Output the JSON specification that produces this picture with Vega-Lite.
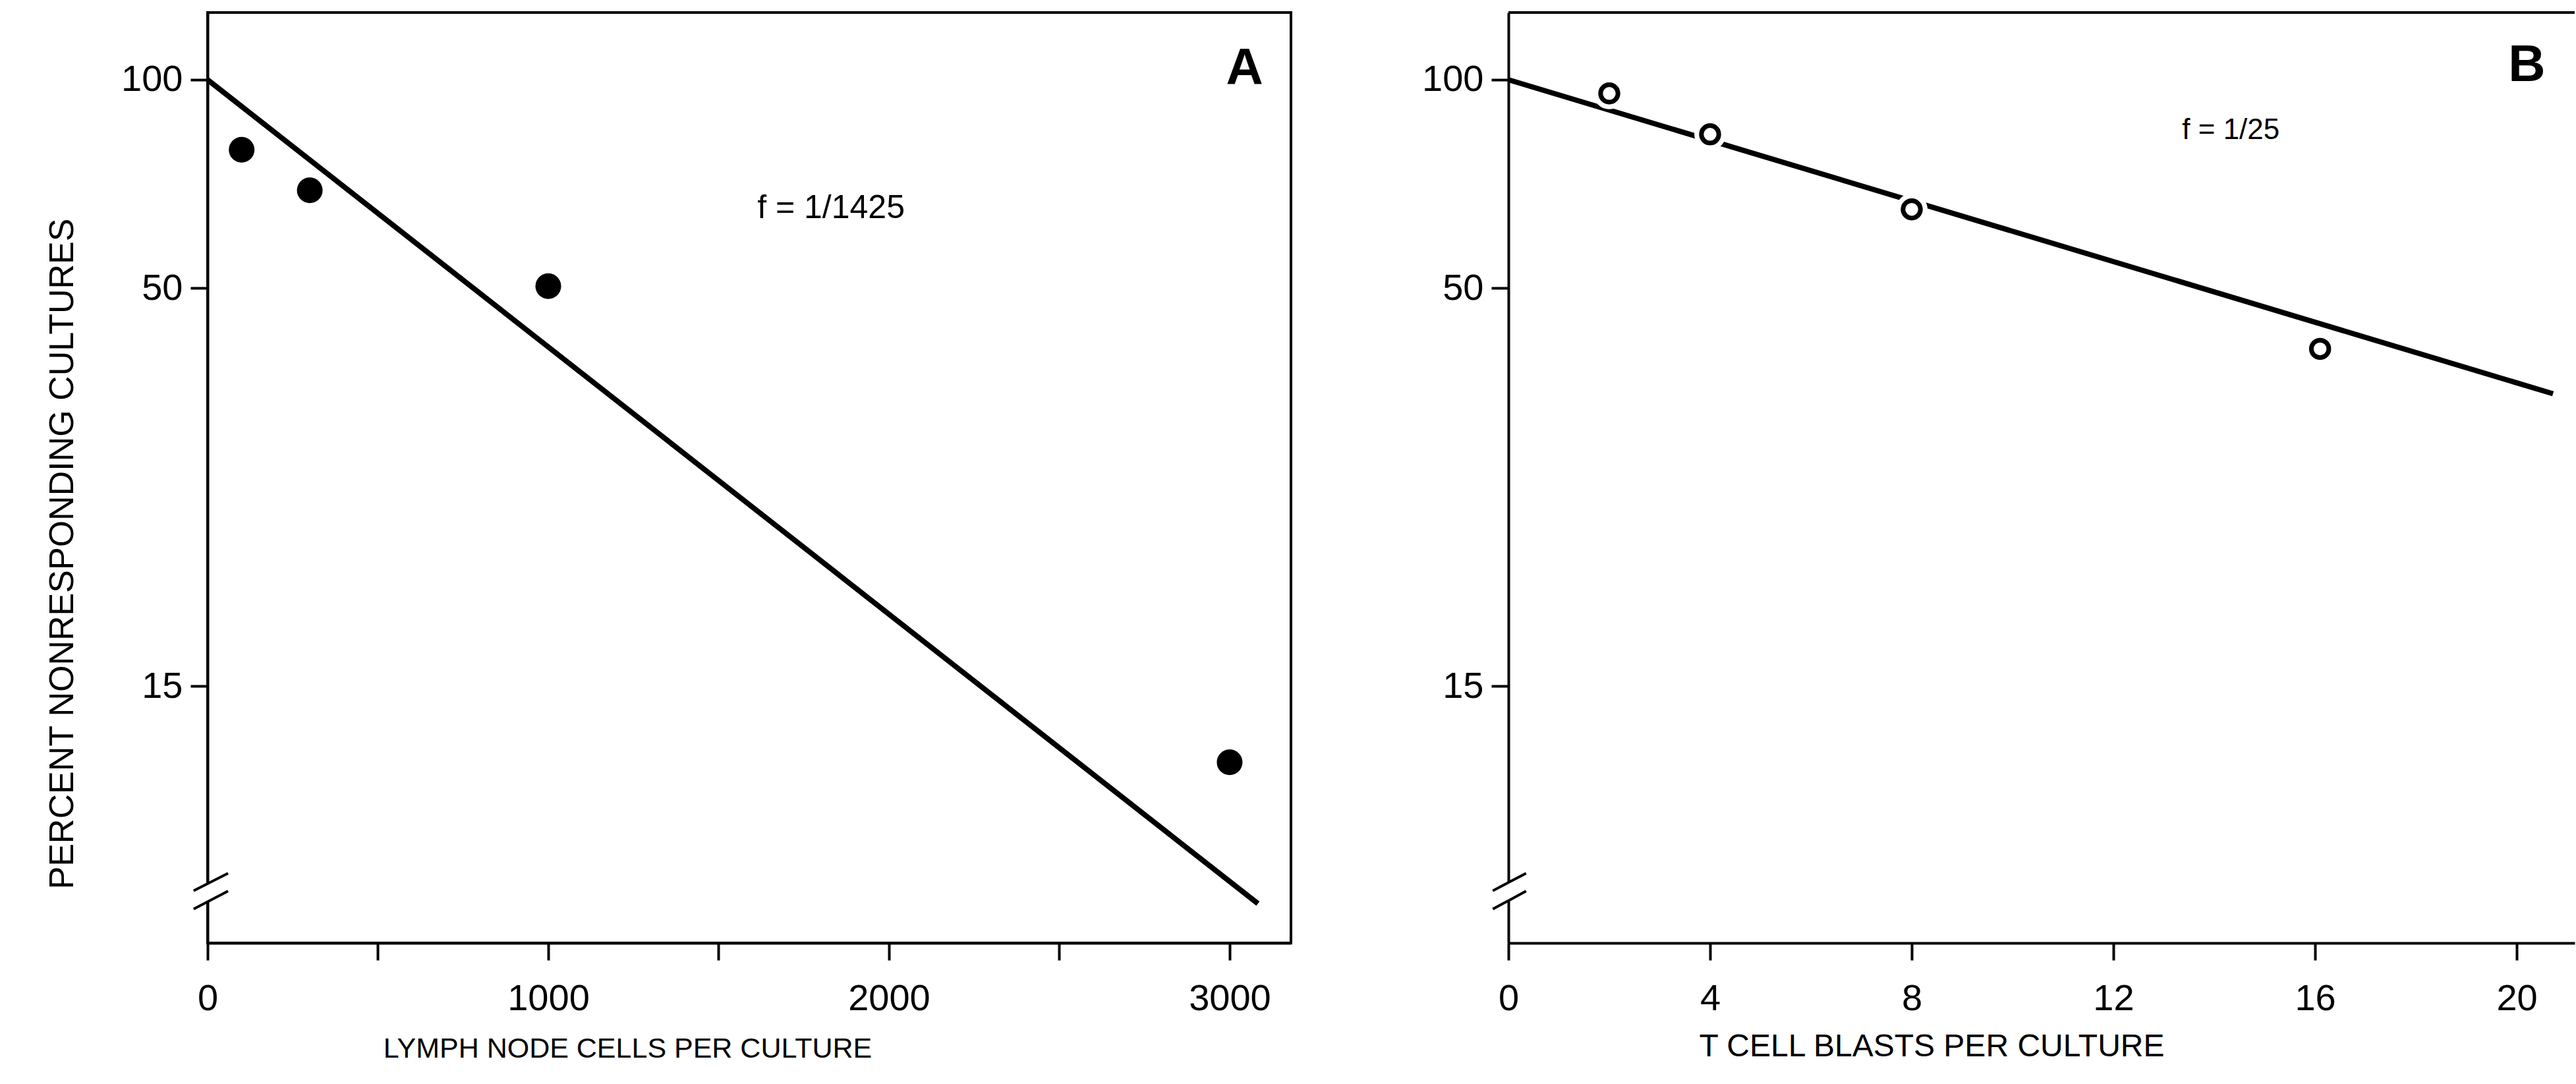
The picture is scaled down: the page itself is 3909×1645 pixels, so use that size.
{
  "$schema": "https://vega.github.io/schema/vega-lite/v6.json",
  "background": "white",
  "autosize": {"type": "pad"},
  "padding": {"left": 66, "top": 17, "right": 0, "bottom": 0},
  "config": {
    "font": "Liberation Sans",
    "view": {"stroke": "black", "strokeWidth": 4},
    "axis": {
      "grid": false,
      "domainColor": "black",
      "domainWidth": 4,
      "tickColor": "black",
      "tickWidth": 4,
      "tickSize": 26,
      "labelColor": "black",
      "titleColor": "black",
      "labelFontSize": 56,
      "titleFontWeight": "normal",
      "labelOverlap": false,
      "labelBound": false,
      "labelFlush": false
    },
    "axisX": {"labelPadding": 31},
    "axisY": {"labelPadding": 12}
  },
  "spacing": 330,
  "bounds": "flush",
  "datasets": {
    "ptsA": [
      {"cells": 100, "pct": 78.8},
      {"cells": 300, "pct": 68.8},
      {"cells": 1000, "pct": 50.3},
      {"cells": 3000, "pct": 12.1}
    ],
    "fitA": [
      {"cells": 0, "pct": 100},
      {"cells": 3083, "pct": 8.22}
    ],
    "gapA": [{"cells": 0, "pct": 8.69, "pct2": 8.28}],
    "breakA": [
      {"cells": -41, "cells2": 60, "pct": 8.51, "pct2": 8.92},
      {"cells": -41, "cells2": 60, "pct": 8.10, "pct2": 8.50}
    ],
    "letterA": [{"cells": 3044, "pct": 103.7, "label": "A"}],
    "noteA": [{"cells": 1830, "pct": 64.9, "label": "f = 1/1425"}],
    "ptsB": [
      {"blasts": 2, "pct": 95.4},
      {"blasts": 4, "pct": 83.0},
      {"blasts": 8, "pct": 64.6},
      {"blasts": 16.1, "pct": 41.2}
    ],
    "fitB": [
      {"blasts": 0, "pct": 100},
      {"blasts": 20.72, "pct": 35.8}
    ],
    "topB": [{"pct": 126.4}],
    "gapB": [{"blasts": 0, "pct": 8.69, "pct2": 8.28}],
    "breakB": [
      {"blasts": -0.31, "blasts2": 0.35, "pct": 8.51, "pct2": 8.92},
      {"blasts": -0.31, "blasts2": 0.35, "pct": 8.10, "pct2": 8.50}
    ],
    "letterB": [{"blasts": 20.2, "pct": 104.9, "label": "B"}],
    "noteB": [{"blasts": 14.33, "pct": 84.1, "label": "f = 1/25"}]
  },
  "hconcat": [
    {
      "width": 1644,
      "height": 1412,
      "layer": [
        {
          "data": {"name": "fitA"},
          "mark": {"type": "line", "color": "black", "strokeWidth": 8},
          "encoding": {
            "x": {
              "field": "cells", "type": "quantitative",
              "scale": {"domain": [0, 3180], "nice": false, "zero": false},
              "axis": {
                "values": [0, 500, 1000, 1500, 2000, 2500, 3000],
                "format": "d",
                "labelExpr": "datum.value % 1000 === 0 ? datum.label : ''",
                "title": "LYMPH NODE CELLS PER CULTURE",
                "titleFontSize": 43,
                "titleX": 637,
                "titleY": 160,
                "titleBaseline": "middle"
              }
            },
            "y": {
              "field": "pct", "type": "quantitative",
              "scale": {"type": "pow", "exponent": -0.1, "domain": [7.4, 126.4], "nice": false, "zero": false},
              "axis": {
                "values": [15, 50, 100],
                "title": "PERCENT NONRESPONDING CULTURES",
                "titleFontSize": 52,
                "titleAngle": 270,
                "titleX": -221,
                "titleY": 821,
                "titleBaseline": "middle"
              }
            }
          }
        },
        {
          "data": {"name": "ptsA"},
          "mark": {"type": "circle", "color": "black", "opacity": 1, "size": 1520},
          "encoding": {
            "x": {"field": "cells", "type": "quantitative"},
            "y": {"field": "pct", "type": "quantitative"}
          }
        },
        {
          "data": {"name": "gapA"},
          "mark": {"type": "rule", "color": "white", "strokeWidth": 12},
          "encoding": {
            "x": {"field": "cells", "type": "quantitative"},
            "y": {"field": "pct", "type": "quantitative"},
            "y2": {"field": "pct2"}
          }
        },
        {
          "data": {"name": "breakA"},
          "mark": {"type": "rule", "color": "black", "strokeWidth": 4},
          "encoding": {
            "x": {"field": "cells", "type": "quantitative"},
            "x2": {"field": "cells2"},
            "y": {"field": "pct", "type": "quantitative"},
            "y2": {"field": "pct2"}
          }
        },
        {
          "data": {"name": "letterA"},
          "mark": {"type": "text", "fontSize": 78, "fontWeight": "bold", "color": "black", "align": "center", "baseline": "middle"},
          "encoding": {
            "x": {"field": "cells", "type": "quantitative"},
            "y": {"field": "pct", "type": "quantitative"},
            "text": {"field": "label"}
          }
        },
        {
          "data": {"name": "noteA"},
          "mark": {"type": "text", "fontSize": 50, "color": "black", "align": "center", "baseline": "middle"},
          "encoding": {
            "x": {"field": "cells", "type": "quantitative"},
            "y": {"field": "pct", "type": "quantitative"},
            "text": {"field": "label"}
          }
        }
      ]
    },
    {
      "width": 1618,
      "height": 1412,
      "view": {"stroke": null},
      "layer": [
        {
          "data": {"name": "fitB"},
          "mark": {"type": "line", "color": "black", "strokeWidth": 8},
          "encoding": {
            "x": {
              "field": "blasts", "type": "quantitative",
              "scale": {"domain": [0, 21.15], "nice": false, "zero": false},
              "axis": {
                "values": [0, 4, 8, 12, 16, 20],
                "format": "d",
                "title": "T CELL BLASTS PER CULTURE",
                "titleFontSize": 48,
                "titleX": 642,
                "titleY": 157,
                "titleBaseline": "middle"
              }
            },
            "y": {
              "field": "pct", "type": "quantitative",
              "scale": {"type": "pow", "exponent": -0.1, "domain": [7.4, 126.4], "nice": false, "zero": false},
              "axis": {"values": [15, 50, 100], "title": null}
            }
          }
        },
        {
          "data": {"name": "topB"},
          "mark": {"type": "rule", "color": "black", "strokeWidth": 4},
          "encoding": {
            "y": {"field": "pct", "type": "quantitative"}
          }
        },
        {
          "data": {"name": "ptsB"},
          "mark": {"type": "circle", "color": "white", "opacity": 1, "size": 2300},
          "encoding": {
            "x": {"field": "blasts", "type": "quantitative"},
            "y": {"field": "pct", "type": "quantitative"}
          }
        },
        {
          "data": {"name": "ptsB"},
          "mark": {"type": "circle", "fill": "white", "fillOpacity": 1, "stroke": "black", "strokeWidth": 7, "opacity": 1, "size": 700},
          "encoding": {
            "x": {"field": "blasts", "type": "quantitative"},
            "y": {"field": "pct", "type": "quantitative"}
          }
        },
        {
          "data": {"name": "gapB"},
          "mark": {"type": "rule", "color": "white", "strokeWidth": 12},
          "encoding": {
            "x": {"field": "blasts", "type": "quantitative"},
            "y": {"field": "pct", "type": "quantitative"},
            "y2": {"field": "pct2"}
          }
        },
        {
          "data": {"name": "breakB"},
          "mark": {"type": "rule", "color": "black", "strokeWidth": 4},
          "encoding": {
            "x": {"field": "blasts", "type": "quantitative"},
            "x2": {"field": "blasts2"},
            "y": {"field": "pct", "type": "quantitative"},
            "y2": {"field": "pct2"}
          }
        },
        {
          "data": {"name": "letterB"},
          "mark": {"type": "text", "fontSize": 78, "fontWeight": "bold", "color": "black", "align": "center", "baseline": "middle"},
          "encoding": {
            "x": {"field": "blasts", "type": "quantitative"},
            "y": {"field": "pct", "type": "quantitative"},
            "text": {"field": "label"}
          }
        },
        {
          "data": {"name": "noteB"},
          "mark": {"type": "text", "fontSize": 44, "color": "black", "align": "center", "baseline": "middle"},
          "encoding": {
            "x": {"field": "blasts", "type": "quantitative"},
            "y": {"field": "pct", "type": "quantitative"},
            "text": {"field": "label"}
          }
        }
      ]
    }
  ]
}
